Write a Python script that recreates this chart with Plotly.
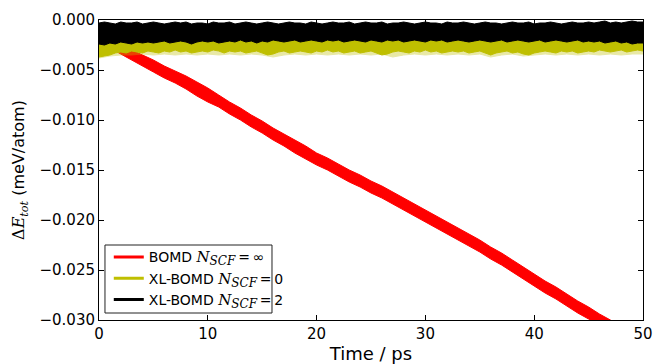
import numpy as np
import plotly.graph_objects as go

# ---------------- data ----------------
# time grid of the noisy bands (ps)
t_fine = [i * 0.5 for i in range(101)]
t_coarse = list(range(51))

# XL-BOMD N_SCF=2 (black) band: upper / lower envelopes (meV/atom)
black_hi = [-0.0003,-0.0002,-0.0003,-0.0004,-0.0002,-0.0003,-0.0003,-0.0002,-0.0004,-0.0003,
            -0.0002,-0.0003,-0.0004,-0.0003,-0.0002,-0.0003,-0.0002,-0.0004,-0.0003,-0.0003,
            -0.0004,-0.0002,-0.0003,-0.0003,-0.0002,-0.0004,-0.0003,-0.0002,-0.0003,-0.0004,
            -0.0003,-0.0002,-0.0003,-0.0004,-0.0003,-0.0002,-0.0003,-0.0003,-0.0004,-0.0002,
            -0.0003,-0.0004,-0.0003,-0.0002,-0.0003,-0.0003,-0.0002,-0.0004,-0.0003,-0.0002,
            -0.0003,-0.0003,-0.0002,-0.0004,-0.0003,-0.0003,-0.0002,-0.0003,-0.0004,-0.0003,
            -0.0002,-0.0003,-0.0003,-0.0004,-0.0002,-0.0003,-0.0003,-0.0002,-0.0003,-0.0004,
            -0.0003,-0.0002,-0.0003,-0.0003,-0.0004,-0.0003,-0.0002,-0.0003,-0.0003,-0.0002,
            -0.0004,-0.0003,-0.0003,-0.0002,-0.0003,-0.0004,-0.0003,-0.0002,-0.0003,-0.0003,
            -0.0002,-0.0003,-0.0002,-0.0001,-0.0003,-0.0002,-0.0003,-0.0002,-0.0001,-0.0002,
            -0.0002]
black_lo = [-0.0024,-0.0025,-0.0023,-0.0024,-0.0022,-0.0023,-0.0024,-0.0022,-0.0023,-0.0022,
            -0.0023,-0.0022,-0.0021,-0.0023,-0.0022,-0.0021,-0.0022,-0.0024,-0.0022,-0.0021,
            -0.0022,-0.0021,-0.0023,-0.0022,-0.0021,-0.0022,-0.0020,-0.0022,-0.0021,-0.0023,
            -0.0021,-0.0022,-0.0020,-0.0021,-0.0022,-0.0021,-0.0020,-0.0022,-0.0021,-0.0020,
            -0.0021,-0.0022,-0.0020,-0.0021,-0.0020,-0.0022,-0.0021,-0.0020,-0.0021,-0.0022,
            -0.0020,-0.0021,-0.0022,-0.0020,-0.0021,-0.0020,-0.0022,-0.0021,-0.0020,-0.0021,
            -0.0022,-0.0020,-0.0021,-0.0020,-0.0022,-0.0021,-0.0020,-0.0021,-0.0022,-0.0021,
            -0.0020,-0.0021,-0.0022,-0.0021,-0.0020,-0.0022,-0.0021,-0.0020,-0.0021,-0.0022,
            -0.0021,-0.0020,-0.0022,-0.0021,-0.0020,-0.0021,-0.0022,-0.0021,-0.0020,-0.0022,
            -0.0021,-0.0022,-0.0021,-0.0023,-0.0022,-0.0021,-0.0023,-0.0022,-0.0024,-0.0023,
            -0.0023]

# XL-BOMD N_SCF=0 (yellow) band (upper edge hidden under the black band)
yellow_hi_t = [0, 10, 20, 30, 40, 50]
yellow_hi = [-0.0012, -0.0012, -0.0012, -0.0012, -0.0012, -0.0012]
yellow_lo = [-0.0037,-0.0036,-0.0035,-0.0033,-0.0032,-0.0033,-0.0031,-0.0032,-0.0033,-0.0031,
             -0.0032,-0.0033,-0.0031,-0.0032,-0.0030,-0.0032,-0.0031,-0.0033,-0.0032,-0.0031,
             -0.0032,-0.0030,-0.0031,-0.0033,-0.0031,-0.0032,-0.0031,-0.0033,-0.0032,-0.0031,
             -0.0033,-0.0035,-0.0034,-0.0032,-0.0031,-0.0033,-0.0032,-0.0031,-0.0032,-0.0033,
             -0.0031,-0.0032,-0.0030,-0.0032,-0.0031,-0.0033,-0.0032,-0.0031,-0.0033,-0.0032,
             -0.0031,-0.0033,-0.0035,-0.0034,-0.0032,-0.0031,-0.0032,-0.0033,-0.0031,-0.0032,
             -0.0030,-0.0032,-0.0031,-0.0033,-0.0032,-0.0031,-0.0032,-0.0031,-0.0033,-0.0032,
             -0.0031,-0.0033,-0.0035,-0.0033,-0.0032,-0.0031,-0.0033,-0.0032,-0.0034,-0.0035,
             -0.0033,-0.0032,-0.0031,-0.0032,-0.0033,-0.0031,-0.0032,-0.0031,-0.0033,-0.0032,
             -0.0031,-0.0032,-0.0030,-0.0031,-0.0032,-0.0031,-0.0030,-0.0032,-0.0031,-0.0030,
             -0.0031]
# sparse, faint lower spikes of the yellow trace
yellow_spike = [-0.0038,-0.0036,-0.0035,-0.0035,-0.0034,-0.0035,-0.0034,-0.0035,-0.0034,-0.0035,
                -0.0034,-0.0035,-0.0034,-0.0035,-0.0034,-0.0035,-0.0037,-0.0035,-0.0034,-0.0035,
                -0.0034,-0.0035,-0.0034,-0.0035,-0.0034,-0.0035,-0.0034,-0.0037,-0.0035,-0.0034,
                -0.0035,-0.0034,-0.0035,-0.0034,-0.0035,-0.0034,-0.0037,-0.0035,-0.0034,-0.0036,
                -0.0035,-0.0034,-0.0035,-0.0034,-0.0035,-0.0034,-0.0035,-0.0034,-0.0035,-0.0034,
                -0.0034]

# BOMD N_SCF=inf (red) drifting band, 1 ps resolution
red_hi = [-0.0013,-0.0018,-0.0024,-0.0030,-0.0035,-0.0040,-0.0046,-0.0051,-0.0056,-0.0062,
          -0.0068,-0.0075,-0.0082,-0.0088,-0.0095,-0.0101,-0.0108,-0.0114,-0.0120,-0.0126,
          -0.0133,-0.0138,-0.0144,-0.0150,-0.0155,-0.0161,-0.0166,-0.0172,-0.0178,-0.0184,
          -0.0190,-0.0196,-0.0202,-0.0208,-0.0214,-0.0220,-0.0227,-0.0233,-0.0240,-0.0247,
          -0.0254,-0.0261,-0.0267,-0.0274,-0.0281,-0.0287,-0.0294,-0.0300,-0.0307,-0.0313,
          -0.0320]
red_lo = [-0.0023,-0.0028,-0.0034,-0.0040,-0.0046,-0.0052,-0.0058,-0.0063,-0.0069,-0.0076,
          -0.0082,-0.0087,-0.0094,-0.0100,-0.0107,-0.0113,-0.0120,-0.0126,-0.0133,-0.0139,
          -0.0145,-0.0150,-0.0156,-0.0162,-0.0167,-0.0173,-0.0178,-0.0184,-0.0190,-0.0196,
          -0.0202,-0.0208,-0.0214,-0.0220,-0.0226,-0.0232,-0.0239,-0.0245,-0.0252,-0.0259,
          -0.0266,-0.0273,-0.0279,-0.0286,-0.0293,-0.0299,-0.0306,-0.0312,-0.0319,-0.0325,
          -0.0332]

MATH_N = ('<span style="font-family:DejaVu Serif;font-size:15px"><i>N</i></span>'
          '<sub><span style="font-family:DejaVu Serif;font-size:12px"><i>SCF</i></span></sub>')
EQ = '\u2009=\u2009'
series_names = ['BOMD ' + MATH_N + EQ + '∞',
                'XL-BOMD ' + MATH_N + EQ + '0',
                'XL-BOMD ' + MATH_N + EQ + '2']
series_colors = ["#ff0000", "#bfbf00", "#000000"]

x_ticks = [0, 10, 20, 30, 40, 50]
y_ticks = [0.000, -0.005, -0.010, -0.015, -0.020, -0.025, -0.030]

# ---------------- figure ----------------
fig = go.Figure()


def band(t_hi, hi, t_lo, lo, color, opacity=1.0):
    xs = list(t_hi) + list(t_lo)[::-1]
    ys = list(hi) + list(lo)[::-1]
    fig.add_trace(go.Scatter(x=xs, y=ys, mode="lines", fill="toself",
                             fillcolor=color, line=dict(color=color, width=1),
                             opacity=opacity, showlegend=False, hoverinfo="skip"))


band(t_coarse, red_hi, t_coarse, red_lo, series_colors[0])
band(yellow_hi_t, yellow_hi, t_coarse, yellow_spike, series_colors[1], 0.35)
band(yellow_hi_t, yellow_hi, t_fine, yellow_lo, series_colors[1])
band(t_fine, black_hi, t_fine, black_lo, series_colors[2])

for name, col in zip(series_names, series_colors):
    fig.add_trace(go.Scatter(x=[None], y=[None], mode="lines", name=name,
                             line=dict(color=col, width=3)))

axis_common = dict(showline=True, linecolor="black", linewidth=1, mirror="allticks",
                   ticks="inside", ticklen=5, tickwidth=1, tickcolor="black",
                   showgrid=False, zeroline=False, automargin=False)

# legend frame (matplotlib style box)
fig.add_shape(type="rect", xref="paper", yref="paper",
              x0=0.011, x1=0.318, y0=0.0233, y1=0.25,
              line=dict(color="#222222", width=1), fillcolor="white", layer="above")

fig.update_layout(
    width=655, height=364,
    margin=dict(l=99, r=12, t=20, b=44),
    paper_bgcolor="white", plot_bgcolor="white",
    font=dict(family="DejaVu Sans", size=15, color="black"),
    legend=dict(x=0.018, y=0.262, xanchor="left", yanchor="top",
                borderwidth=0, bgcolor="rgba(0,0,0,0)",
                font=dict(size=14), tracegroupgap=0, itemwidth=30),
    xaxis=dict(range=[0, 50], tickvals=x_ticks,
               title=dict(text="Time / ps", standoff=9), **axis_common),
    yaxis=dict(range=[-0.030, 0.000], tickvals=y_ticks, tickformat=".3f",
               title=dict(text='<span style="font-family:DejaVu Serif">Δ<i>E</i><sub><i>tot</i></sub></span> (meV/atom)',
                          standoff=10, font=dict(size=16)), **axis_common),
)

fig.write_html("out.html")
